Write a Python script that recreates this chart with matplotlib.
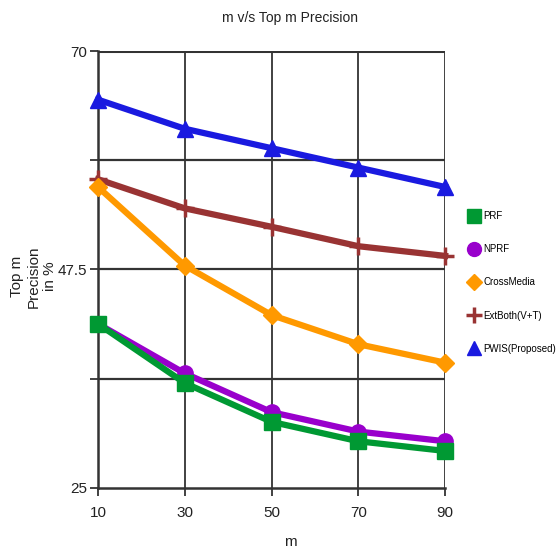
import matplotlib
matplotlib.use('Agg')
from matplotlib import pyplot as plt
from matplotlib.lines import Line2D

plt.rcParams['font.family'] = ['Liberation Sans', 'DejaVu Sans']

m = [10, 30, 50, 70, 90]
prf = [41.9, 35.8, 31.8, 29.8, 28.8]
nprf = [41.9, 36.8, 32.8, 30.8, 29.8]
cross_media = [56.0, 47.9, 42.8, 39.8, 37.9]
ext_both = [56.8, 53.8, 51.9, 49.9, 48.9]
pwis = [65.0, 62.0, 60.0, 58.0, 56.0]

y_ticks = [25, 36.25, 47.5, 58.75, 70]
y_labels = ['25', '', '47.5', '', '70']

series = [
    ('PWIS(Proposed)', pwis, '#1a1ae0', '^', 11, 0),
    ('ExtBoth(V+T)', ext_both, '#993333', '+', 13, 2.5),
    ('CrossMedia', cross_media, '#ff9900', 'D', 9, 0),
    ('NPRF', nprf, '#9900cc', 'o', 11, 0),
    ('PRF', prf, '#009933', 's', 11, 0),
]

fig = plt.figure(figsize=(5.6, 5.5), dpi=100)
ax = fig.add_axes([0.175, 0.113, 0.62, 0.794])

for yv in y_ticks[1:]:
    ax.axhline(yv, color='#333333', lw=2.2 if yv == 70 else 1.6, zorder=1)
for xv in m[1:]:
    ax.axvline(xv, color='#333333', lw=1.3, zorder=1)

for name, vals, col, mk, ms, mew in series:
    ax.plot(m, vals, color=col, lw=4.5, marker=mk, ms=ms, clip_on=False,
            mec=col, mfc=col, mew=mew if mew else 1, zorder=3)

ax.set_xlim(10, 90)
ax.set_ylim(25, 70)
ax.set_xticks(m)
ax.set_yticks(y_ticks)
ax.set_yticklabels(y_labels)
ax.tick_params(axis='both', direction='out', length=6, width=1.3,
               color='#333333', labelsize=11, labelcolor='#222222')
ax.tick_params(axis='x', pad=7)
ax.tick_params(axis='y', pad=2)
for s in ['top', 'right']:
    ax.spines[s].set_visible(False)
for s in ['left', 'bottom']:
    ax.spines[s].set_color('#333333')
    ax.spines[s].set_linewidth(1.8)
ax.spines['left'].set_zorder(2)

fig.text(0.518, 0.968, 'm v/s Top m Precision', ha='center', va='center', fontsize=10, color='#222222')
fig.text(0.518, 0.014, 'm', ha='center', va='center', fontsize=11, color='#222222')
fig.text(0.06, 0.497, 'Top m\nPrecision\nin %', ha='center', va='center', rotation=90,
         fontsize=11, color='#222222', linespacing=1.2)

handles = []
for name, vals, col, mk, ms, mew in reversed(series):
    handles.append(Line2D([], [], color=col, marker=mk, ms=ms - 1, mec=col, mfc=col,
                          mew=mew if mew else 1, linestyle='none', label=name))
fig.legend(handles=handles, loc='upper left', bbox_to_anchor=(0.838, 0.616), frameon=False,
           fontsize=7, handlelength=0.95, handletextpad=0.5, labelspacing=2.38,
           borderaxespad=0, borderpad=0)

fig.savefig('out.png', dpi=100)
